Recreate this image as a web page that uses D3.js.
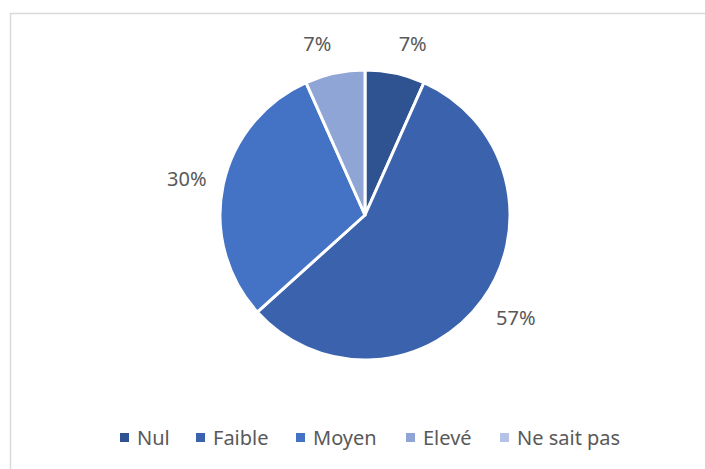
<!DOCTYPE html>
<html>
<head>
<meta charset="utf-8">
<script src="https://cdn.jsdelivr.net/npm/d3@7"></script>
<style>
  body { margin: 0; background: #fff; }
  svg { display: block; font-family: "Noto Sans", "Open Sans", sans-serif; }
</style>
</head>
<body>
<div id="chart"></div>
<script>
// data
const categories = ['Nul', 'Faible', 'Moyen', 'Elevé', 'Ne sait pas'];
const counts = [2, 17, 9, 2, 0];
const colors = ['#2f5290', '#3b63ad', '#4472c4', '#8fa5d5', '#b4c2e6'];

const width = 705, height = 469;

const svg = d3.select('#chart')
    .append('svg')
    .attr('width', width)
    .attr('height', height);

// chart area border
svg.append('rect')
    .attr('x', 10.5)
    .attr('y', 13.5)
    .attr('width', width)
    .attr('height', height)
    .attr('fill', 'none')
    .attr('stroke', '#d9d9d9')
    .attr('stroke-width', 1.5);

const cx = 365, cy = 215, radius = 145;
const total = d3.sum(counts);

const data = categories.map((c, i) => ({cat: c, value: counts[i]}));

const pie = d3.pie().sort(null).value(d => d.value);
const arc = d3.arc().innerRadius(0).outerRadius(radius);

const color = d3.scaleOrdinal().domain(categories).range(colors);

const g = svg.append('g')
    .attr('transform', 'translate(' + cx + ',' + cy + ')');

const slices = pie(data).filter(d => d.data.value > 0);

g.selectAll('path')
    .data(slices)
    .enter()
    .append('path')
    .attr('d', arc)
    .attr('fill', d => color(d.data.cat))
    .attr('stroke', '#fff')
    .attr('stroke-width', 3)
    .attr('stroke-linejoin', 'round');

// labels sit just outside the slice, box touching the point on the mid angle
const labelR = 162;
function midAngle(d) { return (d.startAngle + d.endAngle) / 2; }

g.selectAll('text.lbl')
    .data(slices)
    .enter()
    .append('text')
    .attr('class', 'lbl')
    .attr('x', d => Math.sin(midAngle(d)) * labelR)
    .attr('y', d => -Math.cos(midAngle(d)) * labelR + 7 - 13 * Math.cos(midAngle(d)))
    .attr('text-anchor', d => Math.sin(midAngle(d)) >= 0 ? 'start' : 'end')
    .attr('fill', '#595959')
    .style('font-size', '20px')
    .text(d => Math.round(d.data.value / total * 100) + '%');

// legend
const legendX = [120, 196, 296, 406, 500];
const legend = svg.append('g');
const items = legend.selectAll('g')
    .data(categories)
    .enter()
    .append('g')
    .attr('transform', (d, i) => 'translate(' + legendX[i] + ',433)');

items.append('rect')
    .attr('width', 9)
    .attr('height', 9)
    .attr('fill', d => color(d));

items.append('text')
    .attr('x', 17)
    .attr('y', 12)
    .attr('fill', '#595959')
    .style('font-size', '20px')
    .text(d => d);
</script>
</body>
</html>
